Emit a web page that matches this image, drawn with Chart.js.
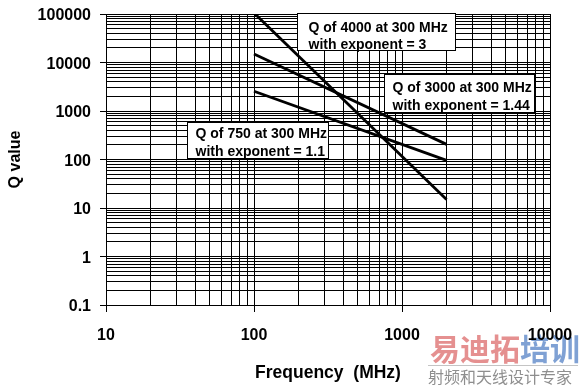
<!DOCTYPE html>
<html>
<head>
<meta charset="utf-8">
<script src="https://cdn.jsdelivr.net/npm/chart.js@4.4.1/dist/chart.umd.min.js"></script>
<style>
  html, body { margin: 0; padding: 0; background: #fff; }
  #wrap { position: relative; width: 582px; height: 387px; }
</style>
</head>
<body>
<div id="wrap"><canvas id="c"></canvas></div>
<script>
// ---- data ----
const freqMHz = [100, 2000];
const qExp3 = [105000, 15];      // Q of 4000 at 300 MHz, exponent 3
const qExp144 = [15000, 205];    // Q of 3000 at 300 MHz, exponent 1.44
const qExp11 = [2550, 96];       // Q of 750 at 300 MHz, exponent 1.1

const xMajorTicks = [10, 100, 1000, 10000];
const xTickLabels = ['10', '100', '1000', '10000'];
const yMajorTicks = [0.1, 1, 10, 100, 1000, 10000, 100000];
const yTickLabels = ['0.1', '1', '10', '100', '1000', '10000', '100000'];

const annotations = [
  { lines: ['Q of 4000 at 300 MHz', 'with exponent = 3'], x: 191, y: -1, w: 158, h: 37, pad: 11, b1: 18, b2: 35 },
  { lines: ['Q of 3000 at 300 MHz', 'with exponent = 1.44'], x: 278, y: 60, w: 150, h: 38, pad: 8, b1: 17, b2: 35 },
  { lines: ['Q of 750 at 300 MHz', 'with exponent = 1.1'], x: 81, y: 108, w: 141, h: 36, pad: 8, b1: 15, b2: 33 }
];

const FONT = '"Liberation Sans", Arial, sans-serif';

function allTicks(majors) {
  const out = [];
  for (let i = 0; i < majors.length; i++) {
    out.push(majors[i]);
    if (i < majors.length - 1) {
      for (let m = 2; m <= 9; m++) out.push(majors[i] * m);
    }
  }
  return out;
}
function isMajor(majors, v) {
  return majors.findIndex(m => Math.abs(m - v) / m < 1e-9);
}
function pts(ys) { return freqMHz.map((f, i) => ({ x: f, y: ys[i] })); }

const annotPlugin = {
  id: 'annot',
  afterDatasetsDraw(chart) {
    const { ctx, chartArea } = chart;
    ctx.save();
    ctx.font = 'bold 14px ' + FONT;
    ctx.textBaseline = 'alphabetic';
    ctx.textAlign = 'left';
    annotations.forEach(a => {
      const x = Math.round(chartArea.left + a.x) + 0.5;
      const y = Math.round(chartArea.top + a.y) + 0.5;
      ctx.fillStyle = '#fff';
      ctx.fillRect(x, y, a.w, a.h);
      ctx.strokeStyle = '#000';
      ctx.lineWidth = 1;
      ctx.strokeRect(x, y, a.w, a.h);
      ctx.fillStyle = '#000';
      ctx.fillText(a.lines[0], x + a.pad, y + a.b1);
      ctx.fillText(a.lines[1], x + a.pad, y + a.b2);
    });
    ctx.restore();
  }
};

const watermarkPlugin = {
  id: 'wm',
  beforeDraw(chart) {
    const ctx = chart.ctx;
    ctx.save();
    ctx.textBaseline = 'alphabetic';
    ctx.textAlign = 'left';
    ctx.font = 'bold 30px "Noto Sans CJK SC"';
    ctx.fillStyle = 'rgba(225,125,125,0.85)';
    ctx.fillText('易迪拓', 430, 360);
    const w = ctx.measureText('易迪拓').width;
    ctx.fillStyle = 'rgba(105,145,205,0.85)';
    ctx.fillText('培训', 430 + w, 360);
    ctx.strokeStyle = 'rgba(190,190,190,0.9)';
    ctx.lineWidth = 1;
    ctx.beginPath();
    ctx.moveTo(428, 365.5);
    ctx.lineTo(578, 365.5);
    ctx.stroke();
    ctx.font = '16px "Noto Sans CJK SC"';
    ctx.fillStyle = 'rgba(130,130,130,0.9)';
    ctx.fillText('射频和天线设计专家', 428, 383);
    ctx.restore();
  }
};

Chart.defaults.font.family = FONT;
Chart.defaults.color = '#000';

new Chart(document.getElementById('c'), {
  type: 'line',
  data: {
    datasets: [
      { data: pts(qExp3), borderColor: '#000', borderWidth: 2.8, pointRadius: 0, fill: false },
      { data: pts(qExp144), borderColor: '#000', borderWidth: 2.8, pointRadius: 0, fill: false },
      { data: pts(qExp11), borderColor: '#000', borderWidth: 2.8, pointRadius: 0, fill: false }
    ]
  },
  options: {
    responsive: true,
    maintainAspectRatio: false,
    animation: false,
    layout: { padding: { left: 0, right: 32, top: 14, bottom: 0 } },
    plugins: { legend: { display: false }, tooltip: { enabled: false } },
    scales: {
      x: {
        type: 'logarithmic',
        min: 10, max: 10000,
        afterBuildTicks: s => { s.ticks = allTicks(xMajorTicks).map(v => ({ value: v })); },
        afterFit: s => { s.height = 82; s.paddingLeft = 0; s.paddingRight = 0; },
        ticks: {
          autoSkip: false, maxRotation: 0, padding: 14,
          font: { size: 16, weight: 'bold' },
          callback: v => { const i = isMajor(xMajorTicks, v); return i >= 0 ? xTickLabels[i] : ''; }
        },
        grid: {
          color: '#000', lineWidth: 1, tickLength: 7,
          tickColor: c => (c.tick && isMajor(xMajorTicks, c.tick.value) >= 0) ? '#000' : 'rgba(0,0,0,0)'
        },
        border: { color: '#000', width: 1 },
        title: { display: true, text: 'Frequency  (MHz)', font: { size: 17.5, weight: 'bold' }, padding: { top: 0, bottom: 3 } }
      },
      y: {
        type: 'logarithmic',
        min: 0.1, max: 100000,
        afterBuildTicks: s => { s.ticks = allTicks(yMajorTicks).map(v => ({ value: v })); },
        afterFit: s => { s.width = 106; s.paddingTop = 0; s.paddingBottom = 0; },
        ticks: {
          autoSkip: false, padding: 9, labelOffset: 2,
          font: { size: 16, weight: 'bold' },
          callback: v => { const i = isMajor(yMajorTicks, v); return i >= 0 ? yTickLabels[i] : ''; }
        },
        grid: {
          color: '#000', lineWidth: 1, tickLength: 6,
          tickColor: c => (c.tick && isMajor(yMajorTicks, c.tick.value) >= 0) ? '#000' : 'rgba(0,0,0,0)'
        },
        border: { color: '#000', width: 1 },
        title: { display: true, text: 'Q value', font: { size: 16, weight: 'bold' }, padding: { top: 6, bottom: 0 } }
      }
    }
  },
  plugins: [watermarkPlugin, annotPlugin]
});
</script>
</body>
</html>
